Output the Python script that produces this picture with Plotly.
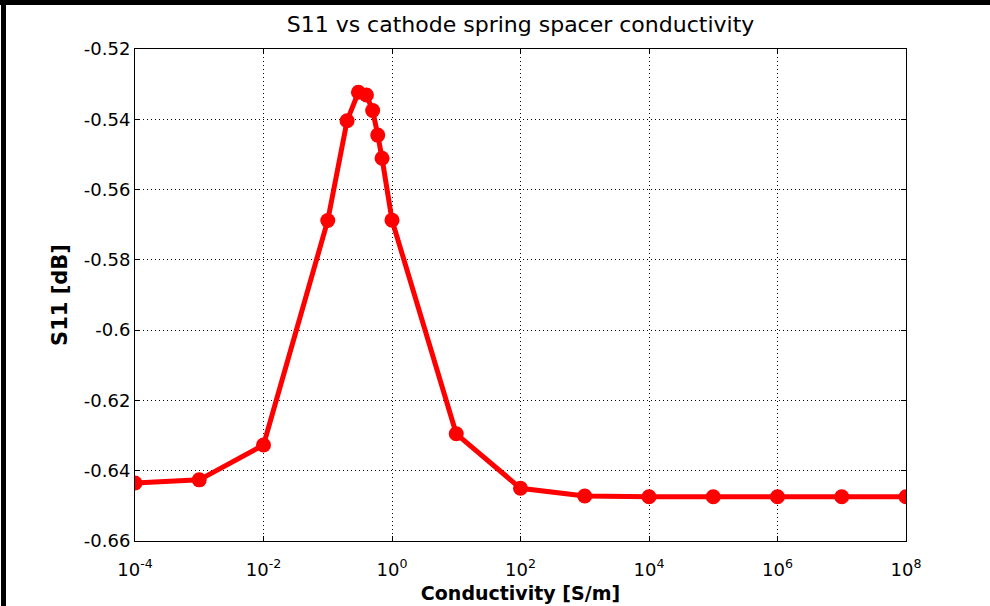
import plotly.graph_objects as go

conductivity = [1e-4, 1e-3, 1e-2, 1e-1, 0.2, 0.3, 0.4, 0.5, 0.6, 0.7, 1.0,
                10, 100, 1e3, 1e4, 1e5, 1e6, 1e7, 1e8]
s11_db = [-0.6435, -0.6426, -0.6327, -0.5688, -0.5404, -0.5323, -0.5331,
          -0.5375, -0.5445, -0.5511, -0.5687, -0.6295, -0.6450, -0.6472,
          -0.6474, -0.6474, -0.6474, -0.6474, -0.6474]

x_tick_vals = [1e-4, 1e-2, 1e0, 1e2, 1e4, 1e6, 1e8]
x_tick_text = ["10<sup>-4</sup>", "10<sup>-2</sup>", "10<sup>0</sup>", "10<sup>2</sup>",
               "10<sup>4</sup>", "10<sup>6</sup>", "10<sup>8</sup>"]
y_tick_vals = [-0.66, -0.64, -0.62, -0.60, -0.58, -0.56, -0.54, -0.52]
y_tick_text = ["-0.66", "-0.64", "-0.62", "-0.6", "-0.58", "-0.56", "-0.54", "-0.52"]

W, H = 990, 606
L, R, T, B = 135, 906, 49, 541

fig = go.Figure()
fig.add_trace(go.Scatter(
    x=conductivity, y=s11_db, mode="lines+markers",
    line=dict(color="#FF0000", width=5),
    marker=dict(color="#FF0000", size=15),
    showlegend=False,
))

font = "DejaVu Sans, Verdana, sans-serif"
fig.update_layout(
    width=W, height=H,
    margin=dict(l=L, r=W - R, t=T, b=H - B, autoexpand=False),
    paper_bgcolor="white", plot_bgcolor="white",
    font=dict(family=font, size=18, color="black"),
    title=dict(text="S11 vs cathode spring spacer conductivity",
               x=(L + R) / 2 / W, xanchor="center",
               y=1 - 24 / H, yanchor="middle",
               font=dict(size=22, family=font, color="black")),
)
axis_common = dict(
    showline=True, linecolor="black", linewidth=1, mirror="ticks",
    ticks="inside", ticklen=5, tickcolor="black",
    showgrid=True, gridcolor="black", gridwidth=1, griddash="1px,3px",
    zeroline=False, automargin=False,
    tickfont=dict(size=18, family=font, color="black"),
)
fig.update_xaxes(type="log", range=[-4, 8], tickvals=x_tick_vals, ticktext=x_tick_text,
                 ticklabelstandoff=12,
                 title=dict(text="<b>Conductivity [S/m]</b>", standoff=8,
                            font=dict(size=19, family=font, color="black")),
                 **axis_common)
fig.update_yaxes(range=[-0.66, -0.52], tickvals=y_tick_vals, ticktext=y_tick_text,
                 title=dict(text="<b>S11 [dB]</b>", standoff=10,
                            font=dict(size=21, family=font, color="black")),
                 **axis_common)

def px_x(p):
    return (p - L) / (R - L)

def px_y(p):
    return (B - p) / (B - T)

# outer black frame lines (top and left) as in the reference screenshot
fig.add_shape(type="rect", xref="paper", yref="paper",
              x0=px_x(0), x1=px_x(W), y0=px_y(5), y1=px_y(0),
              fillcolor="black", line=dict(width=0), layer="above")
fig.add_shape(type="rect", xref="paper", yref="paper",
              x0=px_x(1), x1=px_x(6), y0=px_y(H), y1=px_y(0),
              fillcolor="black", line=dict(width=0), layer="above")

fig.write_html("out.html", config={"displayModeBar": False},
               post_script="document.body.style.margin='0';")
